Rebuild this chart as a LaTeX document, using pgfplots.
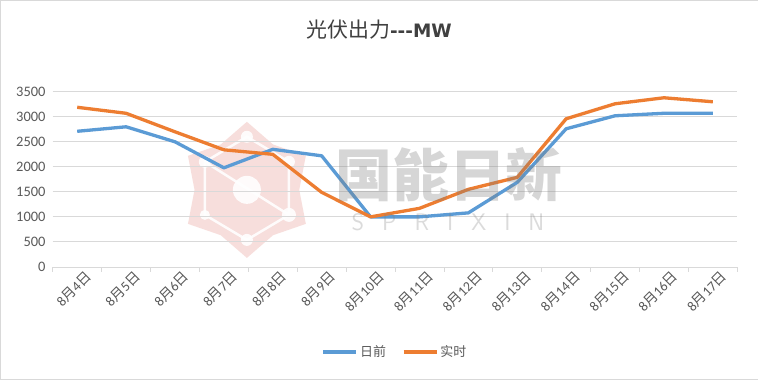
\documentclass[border=0pt]{standalone}
\usepackage{fontspec}
\setmainfont{Carlito}
\newfontfamily\cjk{Noto Sans CJK SC}
\newfontfamily\dejavu{DejaVu Sans}
\usepackage{pgfplots}
\pgfplotsset{compat=1.18}
\usetikzlibrary{shapes.geometric}
\definecolor{sblue}{HTML}{5B9BD5}
\definecolor{sorange}{HTML}{ED7D31}
\definecolor{tickgray}{HTML}{595959}
\definecolor{gridgray}{HTML}{D9D9D9}
\definecolor{titlegray}{HTML}{404040}
\definecolor{wmpink}{HTML}{F2C4C0}
\newcommand\dlab[1]{8{\cjk 月}#1{\cjk 日}}
\begin{document}
\begin{tikzpicture}[x=1bp,y=1bp]
\draw[draw=gridgray, fill=white] (0.5,0.5) rectangle (757.5,379.5);
% watermark logo
\node[star, star points=6, star point ratio=1.3, fill=wmpink, opacity=0.55, minimum size=136bp, inner sep=0pt] at (247,190) {};
\draw[white, line width=2.5bp, opacity=0.9] (205,218) -- (247,243) -- (289,218) -- (289,165) -- (247,140) -- (205,165) -- cycle;
\draw[white, line width=2.5bp, opacity=0.9] (205,218) -- (289,165);
\fill[white, opacity=0.9] (247,190) circle (14bp) (205,218) circle (6bp) (247,243) circle (6bp) (289,218) circle (6bp) (289,165) circle (7bp) (247,140) circle (6bp) (205,165) circle (5bp);
\begin{axis}[
  at={(53bp,113bp)}, anchor=south west, scale only axis,
  width=684bp, height=175bp,
  xmin=-0.5, xmax=13.5, ymin=0, ymax=3500,
  ytick={0,500,...,3500},
  /pgf/number format/.cd, 1000 sep={}, assume math mode=true, /pgfplots/.cd,
  xtick={-0.5,0.5,...,13.5}, xticklabels={},
  extra x ticks={0,...,13},
  extra x tick labels={\dlab{4},\dlab{5},\dlab{6},\dlab{7},\dlab{8},\dlab{9},\dlab{10},\dlab{11},\dlab{12},\dlab{13},\dlab{14},\dlab{15},\dlab{16},\dlab{17}},
  extra x tick style={major tick length=0pt, grid=none},
  xticklabel style={rotate=45, anchor=north east, font=\fontsize{14}{16}\selectfont, text=tickgray, inner sep=1bp, yshift=-6bp, xshift=4bp},
  yticklabel style={font=\fontsize{14.5}{16}\selectfont, text=tickgray, inner sep=2bp},
  axis x line*=bottom, axis y line*=left,
  y axis line style={draw=none},
  x axis line style={draw=gridgray, line width=0.8bp, -},
  ytick style={draw=none},
  xtick style={draw=gridgray, line width=0.8bp},
  tick align=outside, major tick length=5bp,
  ymajorgrids, grid style={gridgray, line width=0.8bp},
  legend style={at={(0.5,-0.486)}, anchor=center, draw=none, fill=none,
    font=\fontsize{13}{15}\selectfont\cjk, text=tickgray, legend columns=2,
    /tikz/every even column/.append style={column sep=14bp}},
  legend image code/.code={\draw[#1] (0bp,0bp) -- (33bp,0bp);},
  clip=false,
]
\addplot[sblue, line width=3.3bp, line join=round] coordinates {
(0,2710) (1,2800) (2,2500) (3,1980) (4,2350) (5,2220) (6,1000) (7,1000) (8,1080) (9,1690) (10,2760) (11,3020) (12,3070) (13,3070)};
\addlegendentry{日前}
\addplot[sorange, line width=3.3bp, line join=round] coordinates {
(0,3190) (1,3070) (2,2700) (3,2340) (4,2250) (5,1490) (6,1000) (7,1170) (8,1550) (9,1790) (10,2960) (11,3260) (12,3380) (13,3300)};
\addlegendentry{实时}
\end{axis}
% watermark text
\node[text=gray, opacity=0.32, font=\fontsize{57}{60}\selectfont\cjk\bfseries] at (449,205) {国能日新};
\node[text=gray, opacity=0.28, font=\fontsize{24}{26}\selectfont\sffamily] at (448,158) {S\hspace{18bp}P\hspace{18bp}R\hspace{18bp}I\hspace{18bp}X\hspace{18bp}I\hspace{18bp}N};
% title
\node[text=titlegray, inner sep=0pt] at (379,350) {{\fontsize{21}{24}\selectfont\cjk 光伏出力}{\fontsize{18.5}{22}\selectfont\dejavu\bfseries -{}-{}-MW}};
\end{tikzpicture}
\end{document}
